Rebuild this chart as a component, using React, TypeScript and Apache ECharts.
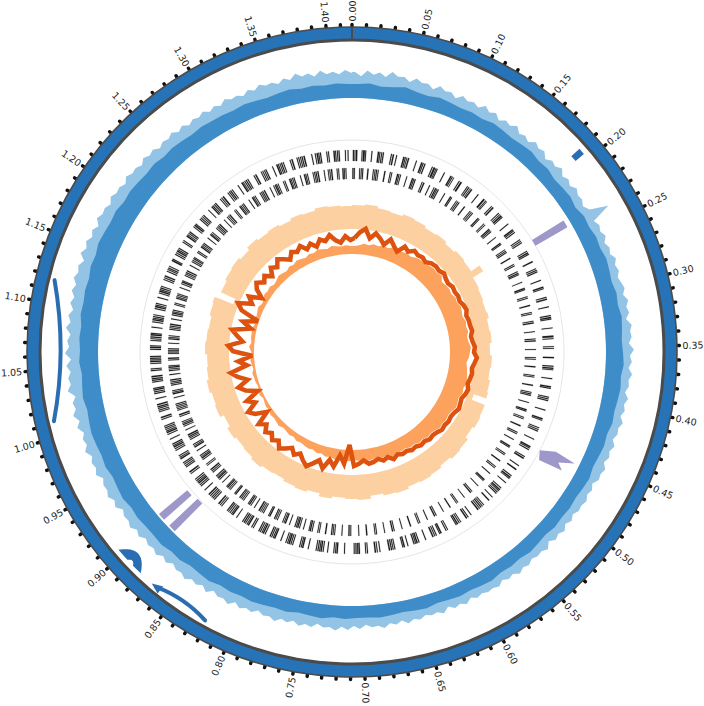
import React, { useEffect, useRef } from "react";
import * as echarts from "echarts";

// ---------- data ----------
const GENOME_MB = 1.418;
const BIN_MB = 0.01;
const FINE_BIN_MB = 0.005;

const tickLabels = ["0.00","0.05","0.10","0.15","0.20","0.25","0.30","0.35","0.40","0.45","0.50","0.55","0.60","0.65","0.70","0.75","0.80","0.85","0.90","0.95","1.00","1.05","1.10","1.15","1.20","1.25","1.30","1.35","1.40"];

const chromosome = [[0, GENOME_MB]];

// blue coverage-like track (0.01 Mb bins, solid layer)
const blueDark = [
  14,15,13,14,16,14,13,15,14,13, 14,13,15,14,13,14,15,13,14,12,
  13,14,12,15,14,16,15,17,16,15, 17,16,18,17,16,17,18,16,17,16,
  15,16,14,15,14,13,15,14,13,14, 13,14,12,13,14,12,13,12,14,13,
  12,13,12,11,13,12,11,12,13,12, 12,13,12,14,13,12,14,13,14,15,
  14,15,14,16,15,14,16,15,17,16, 16,17,16,18,17,16,18,17,18,19,
  18,17,19,18,17,19,18,19,18,20, 19,20,19,21,20,22,21,20,21,19,
  20,19,18,19,17,18,17,16,17,16, 16,15,16,15,14,15,16,14,15,14,15,14
];
// blue track, spike tips (0.005 Mb bins)
const blueLight = [
  26,22,28,24,27,23,29,25,26,22,27,24,25,21,26,23,24,20,25,22,
  24,21,26,22,25,20,24,22,26,21,23,20,25,22,24,19,23,21,25,20,
  23,20,24,21,22,19,23,41,21,24,22,25,21,24,22,26,23,25,22,24,
  26,23,27,24,26,22,27,25,26,23,28,24,26,23,27,24,25,22,26,23,
  25,22,26,23,24,21,25,22,24,21,25,23,24,20,23,21,24,22,23,20,
  23,20,24,21,23,19,24,21,22,20,23,21,24,20,22,19,23,21,22,20,
  22,19,23,20,22,18,23,20,21,19,22,20,23,19,22,20,24,21,22,19,
  23,20,24,21,25,22,23,20,24,22,25,21,24,22,26,23,24,21,25,23,
  26,22,27,24,25,22,27,23,26,24,28,25,26,23,27,24,28,25,27,24,
  28,25,29,26,27,24,29,26,30,27,28,25,30,27,29,26,31,27,29,26,
  31,27,32,28,30,26,33,29,31,28,32,27,33,29,31,28,33,29,32,28,
  32,29,33,30,34,31,33,29,35,31,34,30,33,29,34,31,32,29,33,30,
  31,28,32,29,30,27,31,28,30,26,29,27,30,26,29,25,28,26,29,25,
  28,25,29,26,27,24,28,25,29,26,27,24,28,25,30,26,28,24,29,25,27,24,28,25
];

// peach histogram (0.01 Mb bins)
const peachBars = [
  24,24,25,25,23,23,22,22,24,24, 23,23,21,21,22,22,20,20,22,22,
  21,21,31,19,19,18,18,17,17,18, 16,16,17,17,15,15,17,17,16,16,
  18,18,19,6,20,20,21,21,19,19, 22,22,23,23,21,21,23,23,24,24,
  23,23,25,25,24,24,22,22,25,25, 24,24,23,23,25,25,22,22,24,24,
  23,23,21,21,22,22,24,24,22,22, 21,21,23,23,20,20,24,24,23,23,
  25,25,23,23,22,22,24,24,23,23, 22,22,24,24,25,5,21,21,23,23,
  24,24,22,22,25,25,23,23,24,24, 22,22,24,24,23,23,25,25,24,24,23,23
];

// orange filled area (0.01 Mb bins)
const orangeFill = [
  21,22,24,23,25,24,26,25,27,26, 27,28,27,29,30,29,31,32,31,33,
  29,30,31,30,32,31,33,32,31,33, 32,33,31,32,34,33,32,30,31,32,
  33,34,32,33,31,32,33,31,30,31, 30,31,29,28,29,27,28,26,27,25,
  26,25,27,24,25,23,24,25,23,24, 23,24,25,23,24,22,23,21,22,20,
  21,20,19,20,18,19,18,17,19,18, 17,18,16,17,16,15,17,16,15,16,
  16,17,15,16,17,15,16,18,16,17, 17,18,16,19,17,18,19,17,18,20,
  19,20,18,19,21,20,19,21,20,22, 21,20,22,21,23,22,21,23,22,21,22,21
];

// dark orange line (0.01 Mb bins)
const orangeLine = [
  29,35,39,30,36,32,27,34,29,25, 33,30,34,32,33,31,34,35,34,36,
  34,33,35,34,35,34,36,37,35,36, 36,37,35,36,38,37,40,38,36,37,
  36,35,37,36,34,35,36,34,33,34, 33,34,32,31,32,30,31,29,30,28,
  29,27,30,26,28,25,27,28,24,27, 29,8,27,19,31,25,35,28,33,38,
  34,29,33,28,32,36,30,34,29,33, 27,33,19,30,35,24,31,17,28,34,
  23,32,38,21,29,15,34,39,25,31, 37,19,28,14,33,39,26,32,20,29,
  33,27,31,25,32,28,34,30,26,32, 29,33,27,31,26,32,29,34,28,25,31,27
];

// genes, [start kb, end kb]
const fwdGenes = [
  [1,2.2],[3,3.8],[4.5,6],[11,11.8],[12.5,14.5],[15,16],[22,23],[29,30.5],[31,32],[33,34],[34.8,36],[44,45],[46,47.5],[50,51],[58,59.5],[60,61],[61.8,62.6],[63.5,65],[73,74],[79,80.5],
  [81,82],[83,84.2],[92,93],[94,96],[96.6,97.5],[98,99],[107,108],[115,116.5],[117,118],[119,119.8],[126,127],[128,130],[137,138],[138.8,140],[141,141.8],[142.5,144],[152,153],[160,162],[163,164],[164.6,165.4],
  [172,173],[174,175.5],[183,184],[185,186],[186.8,188.5],[189,190],[199,200],[207,208.5],[209,210],[211,212],[221,222],[223,224],[224.8,226],[236,237],[238,239.5],[240,241],[249,250.5],[258,259],[260,261],[261.8,263],
  [272,273],[280,281.5],[282,283],[292,293],[294,295.5],[303,304],[313,314],[315,316.5],[317,318],[327,328],[336,338],[339,340],[348,349],[350,351],[360,361.5],[370,371],[372,373.5],[374,375],[384,385],[393,394.5],
  [395,396],[405,406],[407,408],[408.8,410],[420,421],[430,431.5],[432,433],[441,442],[443,444],[444.8,446],[455,456],[464,465.5],[466,467],[468,469],[477,478],[479,480.5],[489,490],[494,495.5],
  [503,504],[505,506.5],[507,508],[513,514],[521,522],[523,524.5],[525,526],[527,528],[528.8,530],[535,536],[540,541.5],[548,549],[550,551],[551.8,553],[554,555],[556,557.5],[566,567],[570,571],[572,573.5],[580,581],
  [582,583],[584,585.5],[586,587],[597,598],[599,600],[605,606.5],[607,608],[611,612],[613,614],[615,616.5],[624,625],[632,633],[634,635.5],[636,637],[637.8,639],[645,646],[649,650.5],[651,652],[660,661],[662,663],
  [663.8,665],[666,667.5],[677,678],[680,681],[682,683.5],[691,692],[693,694],[700,701.5],[702,703],[703.8,705],[706,707],[717,718],[725,726.5],[727,728],[729,730],[736,737],[741,742],[743,744.5],[745,746],[746.8,748],
  [749,750],[758,759],[764,765.5],[766,767],[768,769],[776,777],[778,779],[779.8,781.5],[782,783],[784,785],[790,791],[797,798.5],[799,800],[801,802],[802.8,804],[809,810],[811,812.5],[813,814],[815,816],[816.8,818],
  [824,825],[826,827],[830,831.5],[832,833],[834,835],[835.8,837],[838,839],[846,847],[851,852.5],[853,854],[855,856],[857,858],[858.8,860],[867,868],[869,870],[871,872.5],[878,879],[880,881],[881.8,883],[884,885],
  [886,887.5],[893,894],[899,900],[901,902],[903,904.5],[905,906],[906.8,908],[909,910],[917,918],[919,920.5],[926,927],[928,929],[930,931],[931.8,933],[937,938.5],[939,940],[941,942],[948,949],[950,951],[952,953.5],
  [954,955],[955.8,957],[962,963],[968,969],[970,971.5],[972,973],[974,975],[975.8,977],[978,979],[986,987],[988,989.5],[995,996],[997,998],[999,1000],[1000.8,1002],[1003,1004.5],[1010,1011],[1016,1017],[1018,1019],[1020,1021.5],
  [1022,1023],[1029,1030],[1031,1032],[1032.8,1034],[1035,1036.5],[1042,1043],[1044,1045],[1050,1051],[1052,1053.5],[1054,1055],[1055.8,1057],[1058,1059],[1066,1067],[1068,1069.5],[1070,1071],[1076,1077],[1078,1079],[1079.8,1081],[1082,1083.5],[1084,1085],
  [1091,1092],[1097,1098],[1099,1100.5],[1101,1102],[1102.8,1104],[1105,1106],[1112,1113],[1114,1115.5],[1116,1117],[1118,1119],[1125,1126],[1130,1131],[1132,1133.5],[1134,1135],[1135.8,1137],[1138,1139],[1146,1147],[1148,1149],[1150,1151.5],[1156,1157],
  [1158,1159],[1159.8,1161],[1162,1163],[1169,1170.5],[1171,1172],[1177,1178],[1179,1180],[1181,1182.5],[1183,1184],[1184.8,1186],[1193,1194],[1195,1196],[1201,1202.5],[1203,1204],[1205,1206],[1206.8,1208],[1214,1215],[1216,1217.5],[1218,1219],[1225,1226],
  [1227,1228],[1229,1230],[1230.8,1232],[1239,1240],[1244,1245.5],[1246,1247],[1248,1249],[1249.8,1251],[1257,1258],[1259,1260],[1261,1262.5],[1268,1269],[1270,1271],[1271.8,1273],[1274,1275],[1282,1283],[1287,1288.5],[1289,1290],[1291,1292],[1292.8,1294],
  [1295,1296],[1303,1304],[1305,1306.5],[1312,1313],[1314,1315],[1316,1317],[1317.8,1319],[1326,1327],[1331,1332.5],[1333,1334],[1335,1336],[1336.8,1338],[1339,1340],[1347,1348],[1349,1350.5],[1355,1356],[1357,1358],[1359,1360],[1360.8,1362],[1363,1364.5],
  [1372,1373],[1376,1377],[1378,1379.5],[1380,1381],[1381.8,1383],[1389,1390],[1391,1392],[1397,1398.5],[1399,1400],[1401,1402],[1402.8,1404],[1410,1411],[1413,1414]
];
const revGenes = [
  [0.5,1.5],[2,3.5],[9,10],[11,12],[12.8,14],[19,20.5],[26,27],[28,29],[29.8,31],[32,33],[40,41.5],[47,48],[49,50],[56,57.5],[58,59],[60,61],[68,69],[75,76.5],[77,78],[78.8,80],
  [88,89],[90,91.5],[98,99],[104,105],[106,107.5],[108,109],[109.8,111],[119,120],[127,128.5],[129,130],[136,137],[138,139],[139.8,141],[148,149.5],[157,158],[159,160],[161,162],[170,171.5],[172,173],[180,181],
  [182,183],[189,190.5],[191,192],[192.8,194],[202,203],[211,212.5],[213,214],[221,222],[223,224],[224.8,226],[233,234.5],[242,243],[244,245],[252,253],[254,255.5],[256,257],[266,267],[274,275.5],[276,277],[285,286],
  [287,288],[296,297.5],[305,306],[307,308],[316,317],[318,319.5],[329,330],[338,339],[340,341.5],[351,352],[361,362],[363,364],[372,373.5],[383,384],[385,386],[395,396.5],[404,405],[406,407],[407.8,409],[417,418],
  [426,427.5],[428,429],[436,437],[438,439],[447,448.5],[456,457],[458,459],[466,467],[475,476.5],[477,478],[486,487],[488,489],[497,498.5],[506,507],[508,509],[517,518],[527,528.5],[529,530],[538,539],[548,549],
  [550,551.5],[560,561],[570,571],[572,573],[581,582.5],[591,592],[601,602],[603,604.5],[613,614],[623,624],[625,626],[635,636.5],[646,647],[656,657],[658,659.5],[668,669],[678,679],[680,681],[690,691.5],[700,701],
  [710,711],[712,713.5],[721,722],[730,731],[732,733],[733.8,735],[741,742.5],[749,750],[751,752],[758,759],[760,761.5],[762,763],[769,770],[774,775],[776,777.5],[778,779],[779.8,781],[787,788],[792,793.5],[794,795],
  [796,797],[803,804],[805,806],[806.8,808],[813,814.5],[815,816],[822,823],[824,825],[826,827],[827.8,829.5],[835,836],[840,841],[842,843.5],[844,845],[851,852],[853,854],[855,856],[856.8,858],[863,864.5],[865,866],
  [872,873],[874,875],[876,877.5],[878,879],[885,886],[890,891],[892,893.5],[894,895],[895.8,897],[902,903],[904,905],[906,907.5],[913,914],[915,916],[922,923],[924,925.5],[926,927],[927.8,929],[935,936],[940,941.5],
  [942,943],[944,945],[951,952],[953,954],[954.8,956],[957,958.5],[964,965],[969,970],[971,972.5],[973,974],[975,976],[982,983],[984,985.5],[990,991],[992,993],[994,995],[995.8,997],[998,999],[1006,1007],[1011,1012.5],
  [1013,1014],[1015,1016],[1022,1023],[1024,1025],[1025.8,1027],[1028,1029.5],[1035,1036],[1040,1041],[1042,1043],[1044,1045.5],[1046,1047],[1053,1054],[1055,1056.5],[1061,1062],[1063,1064],[1065,1066],[1066.8,1068],[1074,1075],[1079,1080.5],[1081,1082],
  [1083,1084],[1091,1092],[1093,1094],[1094.8,1096],[1097,1098.5],[1104,1105],[1109,1110],[1111,1112.5],[1113,1114],[1115,1116],[1122,1123],[1124,1125],[1130,1131.5],[1132,1133],[1134,1135],[1135.8,1137],[1144,1145],[1149,1150],[1151,1152.5],[1153,1154],
  [1160,1161],[1162,1163],[1163.8,1165],[1166,1167.5],[1174,1175],[1179,1180],[1181,1182],[1183,1184.5],[1185,1186],[1192,1193],[1194,1195],[1200,1201.5],[1202,1203],[1204,1205],[1205.8,1207],[1214,1215],[1219,1220.5],[1221,1222],[1223,1224],[1230,1231],
  [1232,1233],[1233.8,1235],[1236,1237.5],[1244,1245],[1249,1250],[1251,1252],[1253,1254.5],[1261,1262],[1263,1264],[1269,1270.5],[1271,1272],[1273,1274],[1274.8,1276],[1283,1284],[1288,1289.5],[1290,1291],[1292,1293],[1299,1300],[1301,1302],[1302.8,1304],
  [1305,1306.5],[1313,1314],[1318,1319],[1320,1321.5],[1322,1323],[1324,1325],[1331,1332],[1333,1334],[1339,1340.5],[1341,1342],[1343,1344],[1344.8,1346],[1353,1354],[1358,1359.5],[1360,1361],[1362,1363],[1369,1370],[1371,1372],[1372.8,1374],[1375,1376.5],
  [1383,1384],[1388,1389],[1390,1391],[1392,1393.5],[1399,1400],[1401,1402],[1406,1407.5],[1408,1409],[1410,1411]
];

// links / features (Mb)
const linkArcs = [[1.117, 1.012], [0.866, 0.822]];
const linkArrowTips = [0.866];
const linkRibbons = [[0.881, 0.889, 0.895, 0.905]];
const linkTabs = [[0.190, 0.195]];
const purpleBars = [[0.229, 0.236, 0, 37], [0.885, 0.892, 1, 40], [0.899, 0.906, 3, 40]];
const purpleArrow = [[0.4634, 0], [0.4573, 15], [0.4593, 37], [0.4655, 22], [0.4705, 29], [0.4727, 4]];

// ---------- layout / style ----------
const CENTER = [352, 352];
const tracks = [
  { inner: 312, outer: 325, max: 1 },  // 0 ideogram
  { inner: 280, outer: 310, max: 30 }, // 1 links
  { inner: 254, outer: 304, max: 50 }, // 2 blue
  { inner: 212, outer: 252, max: 40 }, // 3 purple
  { inner: 173, outer: 202, max: 29 }, // 4 genes
  { inner: 123, outer: 158, max: 35 }, // 5 peach
  { inner: 85, outer: 135, max: 50 },  // 6 orange
  { inner: 0, outer: 212, max: 1 }     // 7 guide circle
];
const LABEL_R = 330.5;
const LINK_END = 26;
const LINK_BEND = 200;
const RIBBON_BEND = 1000;

const geom = (params: any, api: any) => {
  const cs = params.coordSys;
  const cx = cs.cx, cy = cs.cy;
  const pt = (v: number, p: number) => { const c = api.coord([v, p]); return [c[0], c[1]]; };
  const ang = (p: number) => { const c = api.coord([0, p]); return Math.atan2(c[1] - cy, c[0] - cx); };
  const rad = (v: number) => { const c = api.coord([v, 0]); return Math.hypot(c[0] - cx, c[1] - cy); };
  return { cx, cy, pt, ang, rad };
};
const arcPts = (g: any, v: number, p1: number, p2: number, n: number) => {
  const out: number[][] = [];
  for (let k = 0; k <= n; k++) out.push(g.pt(v, p1 + ((p2 - p1) * k) / n));
  return out;
};
const quadPts = (a: number[], c: number[], b: number[], n: number) => {
  const out: number[][] = [];
  for (let k = 0; k <= n; k++) {
    const t = k / n, u = 1 - t;
    out.push([u * u * a[0] + 2 * u * t * c[0] + t * t * b[0], u * u * a[1] + 2 * u * t * c[1] + t * t * b[1]]);
  }
  return out;
};

const areaSeries = (polarIndex: number, values: number[], step: number, base: number, color: string, stepped: boolean) => ({
  type: "custom",
  coordinateSystem: "polar",
  polarIndex,
  silent: true,
  data: values.map((v, i) => [v, (i + 0.5) * step]),
  renderItem: (params: any, api: any) => {
    if (params.dataIndex !== 0) return null;
    const g = geom(params, api);
    const n = values.length;
    const pts: number[][] = [];
    if (stepped) {
      for (let i = 0; i < n; i++) {
        const v = api.value(0, i);
        pts.push(g.pt(v, i * step));
        pts.push(g.pt(v, Math.min((i + 1) * step, GENOME_MB)));
      }
    } else {
      pts.push(g.pt(api.value(0, 0), 0));
      for (let i = 0; i < n; i++) pts.push(g.pt(api.value(0, i), api.value(1, i)));
      pts.push(g.pt(api.value(0, 0), GENOME_MB));
    }
    const inner = arcPts(g, base, GENOME_MB, 0, 240);
    return { type: "polygon", shape: { points: pts.concat(inner) }, style: { fill: color } };
  }
});

const geneSeries = (genes: number[][], lo: number, hi: number) => ({
  type: "custom",
  coordinateSystem: "polar",
  polarIndex: 4,
  silent: true,
  data: genes.map((gn) => [gn[0] / 1000, gn[1] / 1000]),
  renderItem: (params: any, api: any) => {
    const g = geom(params, api);
    const a1 = g.ang(api.value(0));
    let a2 = g.ang(api.value(1));
    if (a2 < a1) a2 += Math.PI * 2;
    return {
      type: "sector",
      shape: { cx: g.cx, cy: g.cy, r0: g.rad(lo), r: g.rad(hi), startAngle: a1, endAngle: a2, clockwise: true },
      style: { fill: "#1a1a1a", stroke: "#1a1a1a", lineWidth: 0.2 }
    };
  }
});

const buildOption = () => ({
  animation: false,
  backgroundColor: "#ffffff",
  polar: tracks.map((t) => ({ center: CENTER, radius: [t.inner, t.outer] })),
  angleAxis: tracks.map((t, i) => ({
    polarIndex: i,
    type: "value",
    min: 0,
    max: GENOME_MB,
    startAngle: 90,
    clockwise: true,
    show: i === 0 || i === 7,
    interval: i === 0 ? 0.01 : undefined,
    axisLine: { show: i === 7, lineStyle: { color: "#e6e6e6", width: 1 } },
    axisTick: { show: i === 0, length: 2.5, lineStyle: { color: "#111111", width: 3.4, cap: "round" } },
    axisLabel: { show: false },
    splitLine: { show: false }
  })),
  radiusAxis: tracks.map((t, i) => ({ polarIndex: i, type: "value", min: 0, max: t.max, show: false })),
  series: [
    // ideogram
    {
      type: "custom", coordinateSystem: "polar", polarIndex: 0, silent: true,
      data: chromosome.map((c) => [0, c[0], c[1]]),
      renderItem: (params: any, api: any) => {
        const g = geom(params, api);
        const p0 = api.value(1);
        const a = g.pt(0, p0), b = g.pt(1, p0);
        return {
          type: "group",
          children: [
            { type: "ring", shape: { cx: g.cx, cy: g.cy, r0: g.rad(0), r: g.rad(1) }, style: { fill: "#2773b8", stroke: "#4b4b4b", lineWidth: 1.6 } },
            { type: "circle", shape: { cx: g.cx, cy: g.cy, r: g.rad(0) }, style: { fill: null, stroke: "#4b4b4b", lineWidth: 3 } },
            { type: "line", shape: { x1: a[0], y1: a[1], x2: b[0], y2: b[1] }, style: { stroke: "#4b4b4b", lineWidth: 2 } }
          ]
        };
      }
    },
    // tick labels
    {
      type: "custom", coordinateSystem: "polar", polarIndex: 0, silent: true,
      data: tickLabels.map((t) => [1, Number(t)]),
      renderItem: (params: any, api: any) => {
        const g = geom(params, api);
        const a = g.ang(api.value(1));
        let theta = a + Math.PI / 2;
        while (theta < 0) theta += Math.PI * 2;
        while (theta >= Math.PI * 2) theta -= Math.PI * 2;
        const right = theta < Math.PI;
        return {
          type: "text",
          x: g.cx + LABEL_R * Math.cos(a),
          y: g.cy + LABEL_R * Math.sin(a),
          rotation: right ? Math.PI / 2 - theta : (3 * Math.PI) / 2 - theta,
          style: { text: tickLabels[params.dataIndex], fill: "#1e1e1e", font: '9.5px "DejaVu Sans"', align: right ? "left" : "right", verticalAlign: "middle" }
        };
      }
    },
    // blue track
    areaSeries(2, blueLight, FINE_BIN_MB, 0, "#93c3e5", false),
    areaSeries(2, blueDark, BIN_MB, 0, "#3f8dc8", false),
    // link arcs
    {
      type: "custom", coordinateSystem: "polar", polarIndex: 1, silent: true,
      data: linkArcs,
      renderItem: (params: any, api: any) => {
        const g = geom(params, api);
        const a = api.value(0), b = api.value(1);
        const P0 = g.pt(LINK_END, a), P2 = g.pt(LINK_END, b);
        const C = g.pt(LINK_END - LINK_BEND * Math.abs(a - b), (a + b) / 2);
        return { type: "bezierCurve", shape: { x1: P0[0], y1: P0[1], x2: P2[0], y2: P2[1], cpx1: C[0], cpy1: C[1] }, style: { stroke: "#2a6db2", lineWidth: 4, fill: null, lineCap: "round" } };
      }
    },
    {
      type: "custom", coordinateSystem: "polar", polarIndex: 1, silent: true,
      data: linkArrowTips.map((p) => [LINK_END, p]),
      renderItem: (params: any, api: any) => {
        const g = geom(params, api);
        const p = api.value(1);
        return { type: "polygon", shape: { points: [g.pt(LINK_END, p + 0.004), g.pt(LINK_END - 5, p - 0.004), g.pt(LINK_END + 4, p - 0.004)] }, style: { fill: "#2a6db2" } };
      }
    },
    {
      type: "custom", coordinateSystem: "polar", polarIndex: 1, silent: true,
      data: linkRibbons,
      renderItem: (params: any, api: any) => {
        const g = geom(params, api);
        const a1 = api.value(0), a2 = api.value(1), b1 = api.value(2), b2 = api.value(3);
        const pts = [
          ...arcPts(g, LINK_END, a1, a2, 3),
          ...quadPts(g.pt(LINK_END, a2), g.pt(LINK_END - RIBBON_BEND * (b1 - a2), (a2 + b1) / 2), g.pt(LINK_END, b1), 8),
          ...arcPts(g, LINK_END, b1, b2, 3),
          ...quadPts(g.pt(LINK_END, b2), g.pt(LINK_END - RIBBON_BEND * (b2 - a1), (a1 + b2) / 2), g.pt(LINK_END, a1), 12)
        ];
        return { type: "polygon", shape: { points: pts }, style: { fill: "#2a6db2" } };
      }
    },
    {
      type: "custom", coordinateSystem: "polar", polarIndex: 1, silent: true,
      data: linkTabs,
      renderItem: (params: any, api: any) => {
        const g = geom(params, api);
        const a = api.value(0), b = api.value(1);
        const pts = [...arcPts(g, 14, a, b, 2), ...arcPts(g, 25, b, a, 2)];
        return { type: "polygon", shape: { points: pts }, style: { fill: "#2a6db2" } };
      }
    },
    // purple features
    {
      type: "custom", coordinateSystem: "polar", polarIndex: 3, silent: true,
      data: purpleBars,
      renderItem: (params: any, api: any) => {
        const g = geom(params, api);
        const p1 = api.value(0), p2 = api.value(1), v0 = api.value(2), v1 = api.value(3);
        return { type: "polygon", shape: { points: [...arcPts(g, v0, p1, p2, 2), ...arcPts(g, v1, p2, p1, 2)] }, style: { fill: "#9d98c9" } };
      }
    },
    {
      type: "custom", coordinateSystem: "polar", polarIndex: 3, silent: true,
      data: purpleArrow,
      renderItem: (params: any, api: any) => {
        if (params.dataIndex !== 0) return null;
        const g = geom(params, api);
        const pts = purpleArrow.map((_, i) => g.pt(api.value(1, i), api.value(0, i)));
        return { type: "polygon", shape: { points: pts }, style: { fill: "#9d98c9" } };
      },
      encode: { radius: 1, angle: 0 }
    },
    // genes
    geneSeries(fwdGenes, 18, 29),
    geneSeries(revGenes, 0, 11),
    // peach histogram
    areaSeries(5, peachBars, BIN_MB, 0, "#fdd0a2", true),
    // orange fill
    areaSeries(6, orangeFill, BIN_MB, 13, "#fda25c", false),
    // orange line
    {
      type: "custom", coordinateSystem: "polar", polarIndex: 6, silent: true,
      data: orangeLine.map((v, i) => [v, (i + 0.5) * BIN_MB]),
      renderItem: (params: any, api: any) => {
        if (params.dataIndex !== 0) return null;
        const g = geom(params, api);
        const pts: number[][] = [];
        for (let i = 0; i < orangeLine.length; i++) pts.push(g.pt(api.value(0, i), api.value(1, i)));
        pts.push(pts[0]);
        return { type: "polyline", shape: { points: pts }, style: { stroke: "#dc520e", lineWidth: 4.5, fill: null, lineJoin: "miter", miterLimit: 3 } };
      }
    }
  ]
});

export default function App() {
  const ref = useRef<HTMLDivElement>(null);
  useEffect(() => {
    if (!ref.current) return;
    const chart = echarts.init(ref.current, null, { renderer: "svg" });
    chart.setOption(buildOption() as any);
    return () => chart.dispose();
  }, []);
  return <div ref={ref} style={{ position: "absolute", left: 0, top: 0, width: 704, height: 706, background: "#fff" }} />;
}
